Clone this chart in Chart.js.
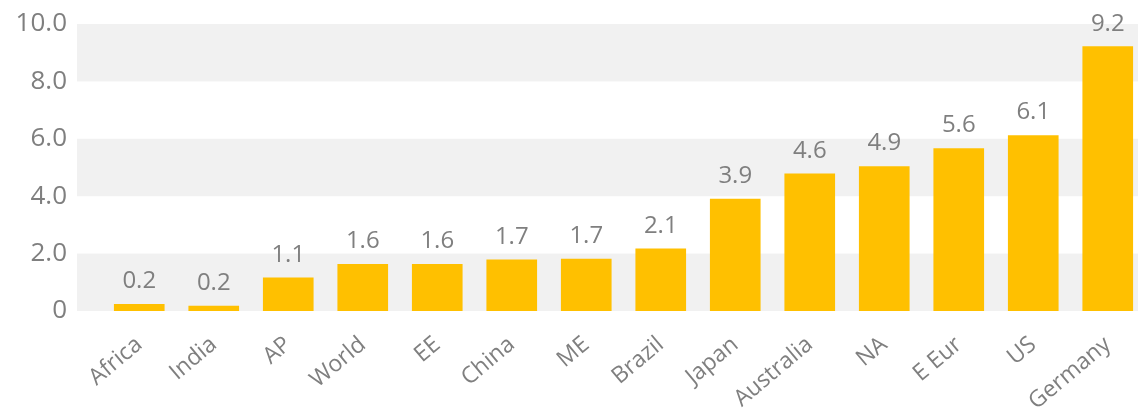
<!DOCTYPE html>
<html>
<head>
<meta charset="utf-8">
<script src="https://cdn.jsdelivr.net/npm/chart.js@4"></script>
<style>
  html, body { margin: 0; padding: 0; background: #fff; overflow: hidden; width: 1138px; height: 412px; }
  #wrap { width: 1145px; height: 412px; position: relative; }
</style>
</head>
<body>
<div id="wrap"><canvas id="c"></canvas></div>
<script>
const categories = ['Africa', 'India', 'AP', 'World', 'EE', 'China', 'ME', 'Brazil', 'Japan', 'Australia', 'NA', 'E Eur', 'US', 'Germany'];
const barValues = [0.23, 0.17, 1.16, 1.63, 1.63, 1.78, 1.81, 2.17, 3.90, 4.78, 5.03, 5.66, 6.11, 9.21];
const valueLabels = ['0.2', '0.2', '1.1', '1.6', '1.6', '1.7', '1.7', '2.1', '3.9', '4.6', '4.9', '5.6', '6.1', '9.2'];
const yTicks = [0, 2, 4, 6, 8, 10];
const bandRanges = [[0, 2], [4, 6], [8, 10]];

const FONT = '"Open Sans", "Noto Sans", sans-serif';
const GREY = '#7f7f7f';

const bandsPlugin = {
  id: 'bands',
  beforeDatasetsDraw(chart) {
    const { ctx, chartArea, scales } = chart;
    const y = scales.y;
    ctx.save();
    ctx.fillStyle = '#f1f1f1';
    const left = chartArea.left - 25;
    bandRanges.forEach(([a, b]) => {
      const top = y.getPixelForValue(b);
      const bot = y.getPixelForValue(a);
      ctx.fillRect(left, top, chartArea.right - left, bot - top);
    });
    ctx.restore();
  }
};

const valueLabelPlugin = {
  id: 'valueLabels',
  afterDatasetsDraw(chart) {
    const { ctx } = chart;
    const meta = chart.getDatasetMeta(0);
    ctx.save();
    ctx.fillStyle = GREY;
    ctx.font = '24px ' + FONT;
    ctx.textAlign = 'center';
    ctx.textBaseline = 'middle';
    meta.data.forEach((bar, i) => {
      ctx.fillText(valueLabels[i], bar.x, bar.y - 23);
    });
    ctx.restore();
  }
};

new Chart(document.getElementById('c'), {
  type: 'bar',
  data: {
    labels: categories,
    datasets: [{
      data: barValues,
      backgroundColor: '#ffc000',
      borderWidth: 0,
      barThickness: 50
    }]
  },
  options: {
    responsive: true,
    maintainAspectRatio: false,
    animation: false,
    devicePixelRatio: 1,
    layout: { padding: 0 },
    plugins: { legend: { display: false }, tooltip: { enabled: false } },
    scales: {
      x: {
        grid: { display: false, drawTicks: false },
        border: { display: false },
        ticks: {
          autoSkip: false,
          minRotation: 40,
          maxRotation: 40,
          padding: 20,
          color: GREY,
          font: { family: FONT, size: 23 }
        },
        afterFit(scale) { scale.height = 101; scale.paddingLeft = 0; scale.paddingRight = 0; }
      },
      y: {
        min: 0,
        max: 10,
        afterBuildTicks(scale) { scale.ticks = yTicks.map(v => ({ value: v })); },
        grid: { display: false, drawTicks: false },
        border: { display: false },
        ticks: {
          padding: 35,
          color: GREY,
          font: { family: FONT, size: 26 },
          callback: v => v === 0 ? '0' : Number(v).toFixed(1)
        },
        afterFit(scale) { scale.width = 102; scale.paddingTop = 24; scale.paddingBottom = 0; }
      }
    }
  },
  plugins: [bandsPlugin, valueLabelPlugin]
});
</script>
</body>
</html>
